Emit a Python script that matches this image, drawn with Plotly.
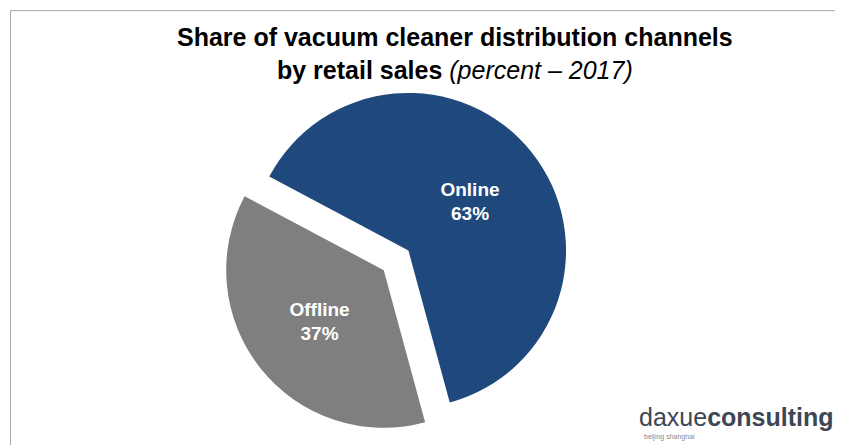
import plotly.graph_objects as go

channels = ["Online", "Offline"]
shares = [63, 37]
colors = ["#1F497D", "#7F7F7F"]

fig = go.Figure(go.Pie(
    labels=channels, values=shares, sort=False, direction="clockwise",
    rotation=-62, pull=[0, 0.2],
    marker=dict(colors=colors),
    texttemplate="<b>%{label}<br>%{value}%</b>", textposition="inside",
    insidetextorientation="horizontal",
    textfont=dict(family="Arial, Liberation Sans", size=19, color="white"),
    domain=dict(x=[0.13, 0.82], y=[0.03, 0.88]),
    showlegend=False, hoverinfo="label+percent",
))
fig.update_layout(
    width=843, height=445, margin=dict(l=0, r=0, t=0, b=0),
    paper_bgcolor="white",
    shapes=[dict(type="rect", xref="paper", yref="paper", x0=0.003, y0=0.012, x1=0.99, y1=0.994,
                 line=dict(color="#A6A6A6", width=1))],
    annotations=[
        dict(text="<b>Share of vacuum cleaner distribution channels<br>by retail sales</b> <i>(percent – 2017)</i>",
             x=0.53, y=0.97, xref="paper", yref="paper", xanchor="center", yanchor="top",
             showarrow=False, font=dict(family="Arial, Liberation Sans", size=25, color="black")),
        dict(text="daxue<b>consulting</b>", x=0.982, y=0.045, xref="paper", yref="paper",
             xanchor="right", yanchor="bottom", showarrow=False,
             font=dict(family="Arial, Liberation Sans", size=25, color="#3C4654")),
        dict(text="beijing shanghai", x=0.785, y=0.022, xref="paper", yref="paper",
             xanchor="center", yanchor="bottom", showarrow=False,
             font=dict(family="Arial, Liberation Sans", size=7, color="#888888")),
    ],
)
fig.write_html("out.html")
